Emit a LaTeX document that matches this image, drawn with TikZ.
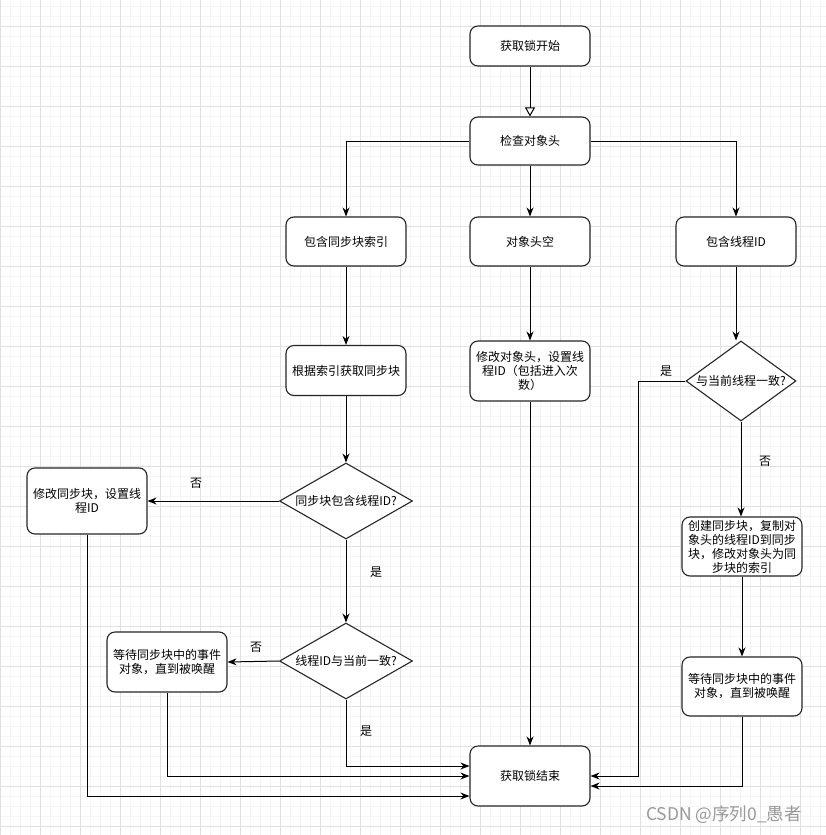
\documentclass[tikz,border=0pt]{standalone}
\usepackage{fontspec}
\setmainfont{Noto Sans CJK SC}
\usetikzlibrary{arrows.meta,shapes.geometric}

\tikzset{
  gridminor/.style={draw=black!4, line width=0.6pt},
  gridmajor/.style={draw=black!12, line width=0.8pt},
  box/.style={draw=black!85, line width=1.1pt, rounded corners=8pt, fill=white,
    minimum width=120pt, align=center, inner sep=1pt},
  decide/.style={draw=black!85, line width=1.1pt, diamond, fill=white, inner sep=0pt, align=center},
  flow/.style={draw=black, line width=1pt, -{Stealth[length=9pt,width=7pt]}},
  openflow/.style={draw=black, line width=1pt, -{Triangle[open,length=9pt,width=10pt,fill=white]}},
  lbl/.style={inner sep=0pt}
}

\begin{document}
\begin{tikzpicture}[x=1pt,y=-1pt,every node/.style={font=\fontsize{12}{14}\selectfont}]
\useasboundingbox (0,0) rectangle (826,835);
\fill[white] (0,0) rectangle (826,835);
% background grid
\foreach \gx in {0,10,...,820} \draw[gridminor] (\gx,0) -- (\gx,835);
\foreach \gy in {6,16,...,830} \draw[gridminor] (0,\gy) -- (826,\gy);
\foreach \gx in {0,40,...,800} \draw[gridmajor] (\gx,0) -- (\gx,835);
\foreach \gy in {26,66,...,826} \draw[gridmajor] (0,\gy) -- (826,\gy);

% boxes
\node[box, minimum height=40pt] (start) at (530,46) {获取锁开始};
\node[box, minimum height=48pt] (check) at (530,141) {检查对象头};
\node[box, minimum height=49pt] (hasidx) at (346,241.5) {包含同步块索引};
\node[box, minimum height=49pt] (empty) at (530,241.5) {对象头空};
\node[box, minimum height=49pt] (hastid) at (736,241.5) {包含线程ID};
\node[box, minimum height=50pt] (getsync) at (346,370.5) {根据索引获取同步块};
\node[box, minimum height=60pt] (setobj) at (530,371) {修改对象头，设置线\\程ID（包括进入次\\数）};
\node[decide, shape aspect=1.375, minimum width=110pt, minimum height=80pt] (sameT) at (741,381) {与当前线程一致?};
\node[decide, shape aspect=1.75, minimum width=133pt, minimum height=76pt] (hastidq) at (346,501) {同步块包含线程ID?};
\node[box, minimum height=66pt] (modsync) at (87,501) {修改同步块，设置线\\程ID};
\node[decide, shape aspect=1.75, minimum width=133pt, minimum height=76pt] (samecur) at (346,661) {线程ID与当前一致?};
\node[box, minimum height=60pt] (waitL) at (167,662) {等待同步块中的事件\\对象，直到被唤醒};
\node[box, minimum height=59pt] (createsync) at (742,546.5) {创建同步块，复制对\\象头的线程ID到同步\\块，修改对象头为同\\步块的索引};
\node[box, minimum height=59pt] (waitR) at (742,686.5) {等待同步块中的事件\\对象，直到被唤醒};
\node[box, minimum height=60pt] (finish) at (530,776) {获取锁结束};

% connectors
\draw[openflow] (start.south) -- (check.north);
\draw[flow] (check.west) -| (hasidx.north);
\draw[flow] (check.south) -- (empty.north);
\draw[flow] (check.east) -| (hastid.north);
\draw[flow] (hasidx.south) -- (getsync.north);
\draw[flow] (empty.south) -- (setobj.north);
\draw[flow] (hastid.south) -- (hastid.south |- sameT.north);
\draw[flow] (getsync.south) -- (hastidq.north);
\draw[flow] (hastidq.west) -- (modsync.east);
\draw[flow] (hastidq.south) -- (samecur.north);
\draw[flow] (samecur.west) -- (waitL.east);
\draw[flow] (sameT.south) -- (sameT.south |- createsync.north);
\draw[flow] (createsync.south) -- (waitR.north);
\draw[flow] (setobj.south) -- (finish.north);
\draw[flow] (samecur.south) |- ([yshift=10pt]finish.west);
\draw[flow] (waitL.south) |- (finish.west);
\draw[flow] (modsync.south) |- ([yshift=-20pt]finish.west);
\coordinate (yesturn) at (638,381);
\draw[flow] (sameT.west) -- (yesturn) |- (finish.east);
\draw[flow] (waitR.south) |- ([yshift=-10pt]finish.east);

% labels
\node[lbl] (noA) at (196,483) {否};
\node[lbl] (yesA) at (376,572) {是};
\node[lbl] (noB) at (256,647) {否};
\node[lbl] (yesB) at (366,731) {是};
\node[lbl] (yesC) at (666,371) {是};
\node[lbl] (noC) at (765,461) {否};

\node[lbl, text=black!40, font=\fontsize{17.5}{20}\selectfont] (mark) at (724,815) {CSDN @序列0\_愚者};
\end{tikzpicture}
\end{document}
